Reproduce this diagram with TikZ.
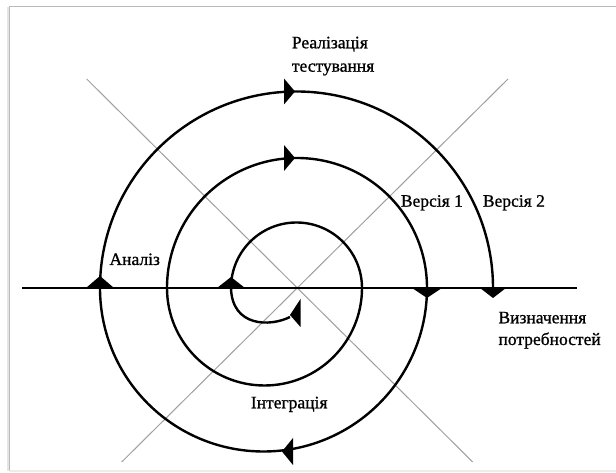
\documentclass[tikz,border=0pt]{standalone}
\usepackage{fontspec}
\setmainfont[FakeBold=0]{Liberation Serif}
\newfontfamily\lblfont[FakeBold=1]{Liberation Serif}
\begin{document}
\begin{tikzpicture}[x=1pt,y=1pt,
  spiral/.style={line width=2.4pt,black},
  axis/.style={line width=2pt,black},
  diag/.style={line width=1pt,gray!75},
  tri/.style={fill=black},
  lbl/.style={inner sep=0pt,anchor=base west,font=\lblfont\fontsize{17.5}{21}\selectfont}]
% canvas
\fill[white] (0,0) rectangle (616,473);
\useasboundingbox (0,0) rectangle (616,473);
% frame
\draw[gray!20,line width=3pt] (8,2) -- (8,466);
\draw[gray!55,line width=1pt] (9,2) -- (9,466) -- (620,466);
\draw[gray!15,line width=1.5pt] (9,2) -- (620,2);
% diagonals
\coordinate (d1a) at (86.7,394);
\coordinate (d1b) at (472.7,11);
\coordinate (d2a) at (508,394);
\coordinate (d2b) at (121.7,11);
\draw[diag] (d1a) -- (d1b);
\draw[diag] (d2a) -- (d2b);
% horizontal axis
\coordinate (hl) at (22,185);
\coordinate (hr) at (577,185);
\draw[axis] (hl) -- (hr);
% spiral
\coordinate (s0) at (290,156);
\coordinate (s1) at (231,185);
\draw[spiral] (s0) .. controls (270,146) and (232,146) .. (s1)
  arc[start angle=180,end angle=0,radius=65.5]
  arc[start angle=360,end angle=180,radius=97.5]
  arc[start angle=180,end angle=0,radius=130]
  arc[start angle=360,end angle=180,radius=163.5]
  arc[start angle=180,end angle=0,radius=196.5];
% arrow marks on the spiral
\fill[tri] (290,158) -- (300.5,174) -- (300.5,146) -- cycle;
\fill[tri] (284,394.5) -- (284,368.5) -- (295,381.5) -- cycle;
\fill[tri] (284,328) -- (284,302) -- (295,315) -- cycle;
\fill[tri] (293,35) -- (293,8) -- (282,21.5) -- cycle;
\fill[tri] (86,185) -- (114,185) -- (100,197) -- cycle;
\fill[tri] (217,185) -- (245,185) -- (231,196) -- cycle;
\fill[tri] (412,185) -- (442,185) -- (427,175) -- cycle;
\fill[tri] (480,185) -- (506,185) -- (493,175) -- cycle;
% labels
\node[lbl] (real) at (291.7,424.7) {Реалізація};
\node[lbl] (test) at (291.7,401.3) {тестування};
\node[lbl] (v1) at (400.7,266.3) {Версія 1};
\node[lbl] (v2) at (482.7,266.3) {Версія 2};
\node[lbl] (viz) at (498.3,149.7) {Визначення};
\node[lbl] (potr) at (498.3,128) {потребностей};
\node[lbl] (an) at (109.3,208) {Аналіз};
\node[lbl] (int) at (250.7,64.7) {Інтеграція};
\end{tikzpicture}
\end{document}
